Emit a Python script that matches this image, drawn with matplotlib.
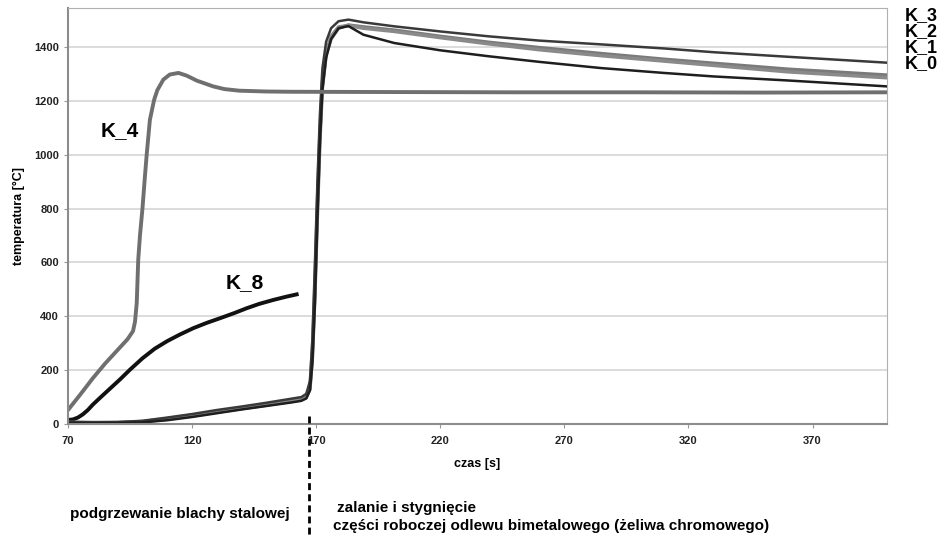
import matplotlib
matplotlib.use("Agg")
import matplotlib.pyplot as plt

plt.rcParams['font.family'] = ['Liberation Sans', 'DejaVu Sans']

# K_4 - heated steel sheet
k4_t = [70, 75, 80, 85, 90, 94, 96.2, 97, 97.7, 98.3, 99, 100, 101, 101.7, 103, 104.7,
        106, 108.4, 111, 114.5, 117.8, 122, 128.5, 133, 139, 150, 160, 200, 250, 300, 350, 400]
k4_v = [52, 110, 170, 225, 275, 315, 345, 380, 450, 610, 700, 800, 920, 1000, 1130, 1204,
        1240, 1279, 1298, 1304, 1294, 1275, 1254, 1244, 1238, 1235, 1234, 1233, 1232, 1232, 1231, 1232]

# K_8
k8_t = [70, 72, 74, 76, 78, 80, 83, 87, 91, 95, 100, 105, 110, 115, 120.5, 126,
        131.3, 137, 142, 147, 152.8, 158, 162.9]
k8_v = [15, 17, 24, 36, 52, 72, 98, 132, 166, 202, 244, 280, 308, 332, 356, 376,
        393, 412, 430, 446, 461, 473, 483]

# K_0 .. K_3 - casting thermocouples
k_t = [70, 80, 90, 100, 110, 120, 130, 140, 150, 160, 164, 166, 167.5, 168.5, 169.5,
       170.5, 171.5, 172.5, 174, 176, 179, 183, 189, 201.5, 220, 239.4, 260, 284.8,
       310, 330, 360, 400]
k3_v = [8, 7, 7, 12, 24, 37, 52, 65, 79, 94, 100, 112, 160, 320, 600,
        900, 1150, 1320, 1420, 1470, 1496, 1502, 1492, 1477, 1458, 1440, 1424, 1410,
        1395, 1381, 1364, 1342]
k2_v = [5, 4, 5, 8, 18, 30, 44, 57, 70, 84, 90, 98, 130, 250, 480,
        780, 1050, 1250, 1370, 1430, 1470, 1482, 1475, 1463, 1440, 1418, 1398, 1376,
        1355, 1340, 1318, 1296]
k1_v = [6, 5, 6, 9, 20, 33, 47, 60, 73, 88, 95, 104, 140, 280, 520,
        820, 1080, 1270, 1380, 1440, 1475, 1480, 1470, 1458, 1435, 1412, 1390, 1368,
        1348, 1332, 1308, 1286]
k0_v = [4, 3, 4, 6, 14, 26, 40, 54, 67, 80, 86, 95, 125, 230, 450,
        760, 1040, 1240, 1360, 1430, 1470, 1478, 1446, 1415, 1388, 1366, 1345, 1322,
        1304, 1291, 1276, 1254]

x_ticks = [70, 120, 170, 220, 270, 320, 370]
y_ticks = [0, 200, 400, 600, 800, 1000, 1200, 1400]

fig = plt.figure(figsize=(9.41, 5.35), dpi=100)
ax = fig.add_axes([68 / 941, 1 - 424 / 535, (887 - 68) / 941, (424 - 7.5) / 535])

ax.plot(k8_t, k8_v, color='#111111', lw=2.8, solid_capstyle='butt')
ax.plot(k_t, k2_v, color='#7a7a7a', lw=2.5)
ax.plot(k_t, k1_v, color='#8a8a8a', lw=2.5)
ax.plot(k_t, k3_v, color='#3a3a3a', lw=1.8)
ax.plot(k_t, k0_v, color='#1e1e1e', lw=1.8)
ax.plot(k4_t, k4_v, color='#6f6f6f', lw=2.8)

ax.set_xlim(70, 400)
ax.set_ylim(0, 1547)
ax.set_xticks(x_ticks)
ax.set_yticks(y_ticks)
ax.tick_params(axis='both', labelsize=8, colors='#999999', labelcolor='#222222', length=3)
for lbl in ax.get_xticklabels() + ax.get_yticklabels():
    lbl.set_fontweight('bold')
ax.tick_params(axis='x', pad=6)
ax.grid(axis='y', color='#d9d9d9', lw=1.3)
ax.set_axisbelow(True)
for side in ['top', 'right']:
    ax.spines[side].set_color('#b0b0b0')
for side in ['left', 'bottom']:
    ax.spines[side].set_color('#8c8c8c')
    ax.spines[side].set_linewidth(1.5)

ax.set_xlabel('czas [s]', fontsize=9, fontweight='bold', labelpad=8)
fig.text(19 / 941, 1 - 216 / 535, 'temperatura [°C]', rotation=90, fontsize=9,
         fontweight='bold', ha='center', va='center')

ax.text(91, 1089, 'K_4', fontsize=15, fontweight='bold', ha='center', va='center')
ax.text(141.4, 524, 'K_8', fontsize=15, fontweight='bold', ha='center', va='center')

for name, y in zip(['K_3', 'K_2', 'K_1', 'K_0'], [16, 32, 48, 64]):
    fig.text(905 / 941, 1 - y / 535, name, fontsize=13, fontweight='bold',
             ha='left', va='center')

# boundary between heating and pouring
fig.add_artist(plt.Line2D([309 / 941, 309 / 941], [1 - 416 / 535, 0], color='black',
                          lw=2, linestyle=(0, (2.5, 1.5))))

fig.text(70 / 941, 1 - 514 / 535, 'podgrzewanie blachy stalowej', fontsize=11,
         fontweight='bold', ha='left', va='center')
fig.text(337 / 941, 1 - 508 / 535, 'zalanie i stygnięcie', fontsize=11,
         fontweight='bold', ha='left', va='center')
fig.text(333 / 941, 1 - 526 / 535, 'części roboczej odlewu bimetalowego (żeliwa chromowego)',
         fontsize=11, fontweight='bold', ha='left', va='center')

fig.savefig('out.png', dpi=100)
